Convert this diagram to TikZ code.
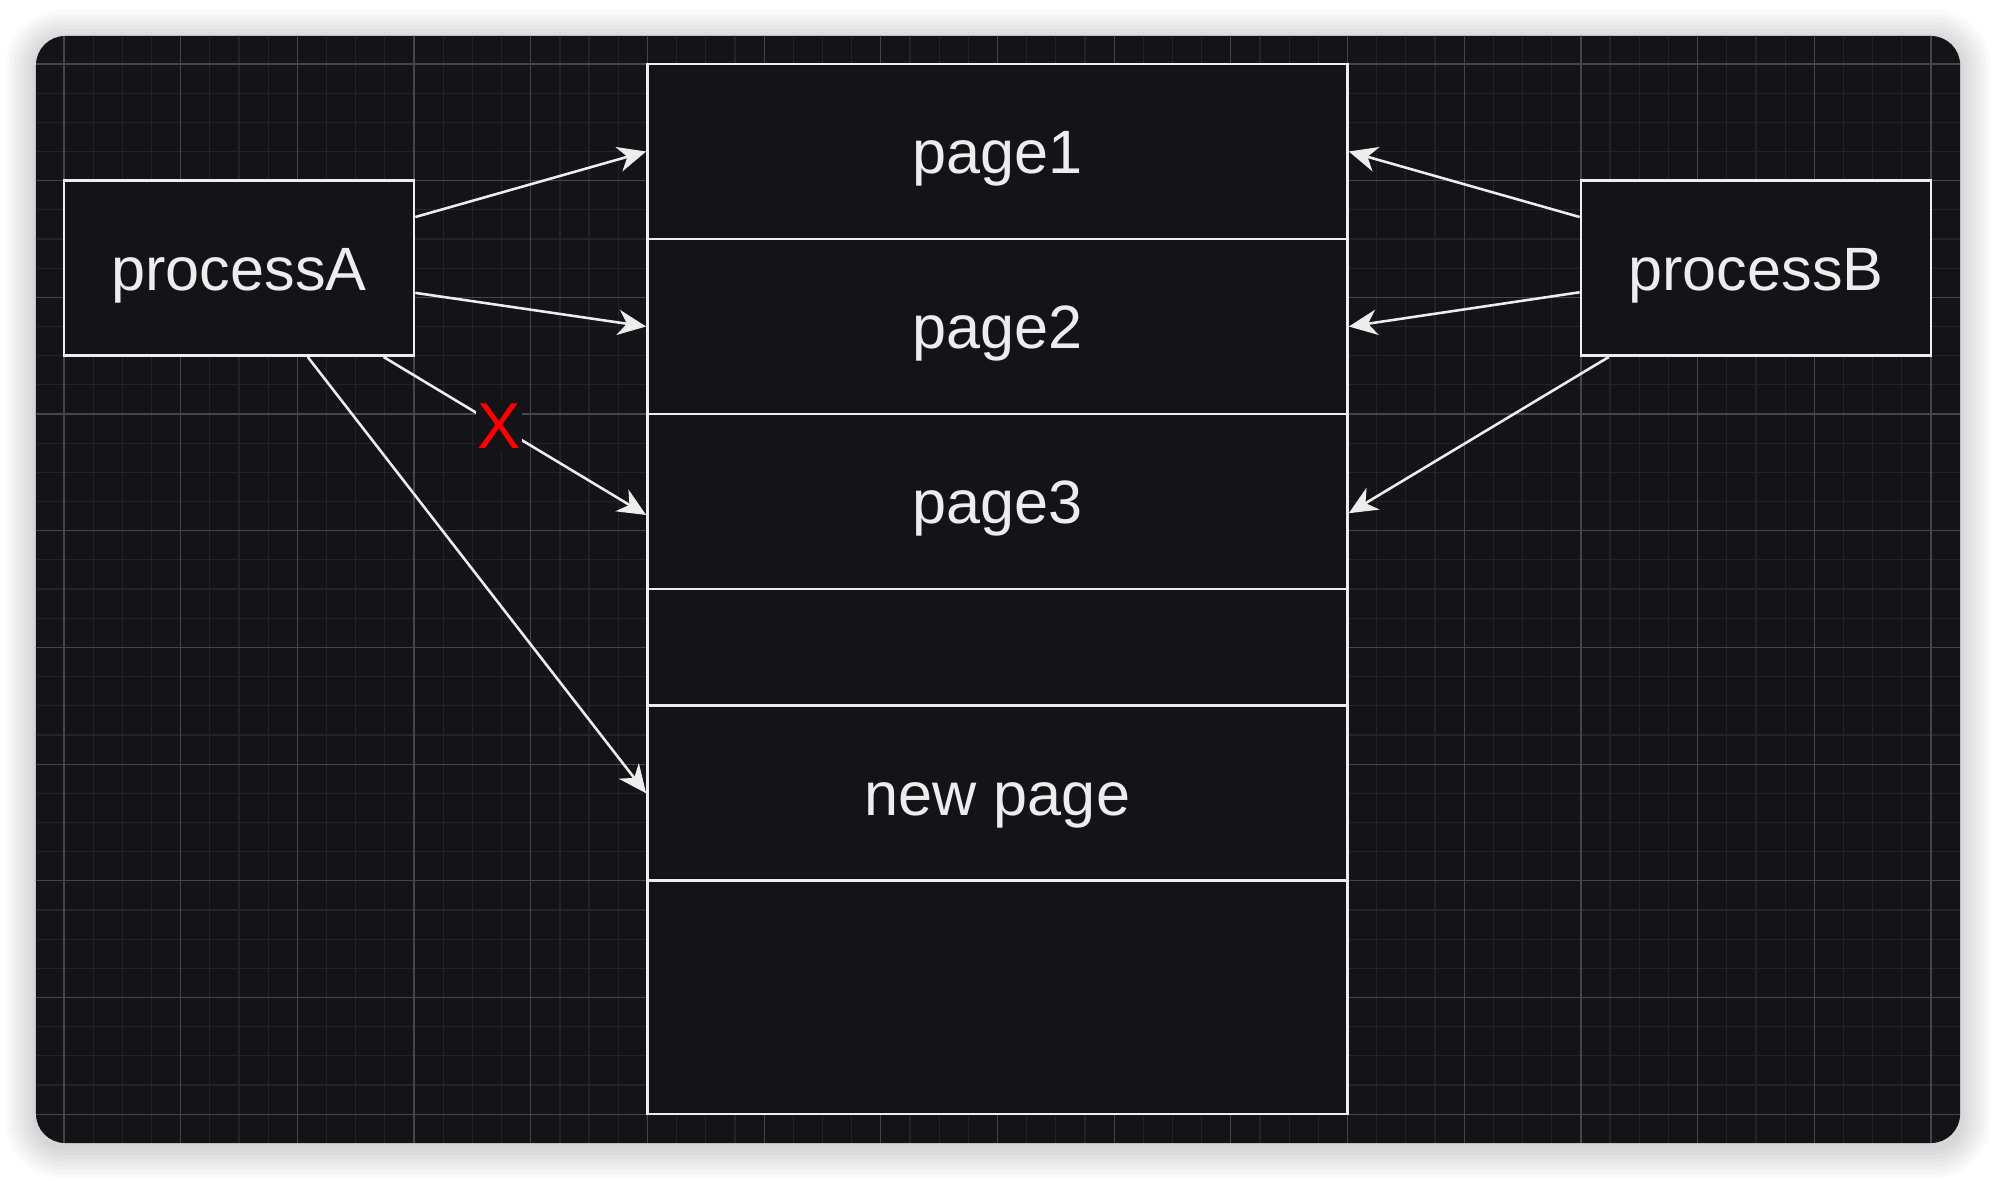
\documentclass[tikz,border=0pt]{standalone}
\usepackage{fontspec}
\setmainfont{Liberation Sans}
\usetikzlibrary{arrows.meta,calc}

\definecolor{canvas}{HTML}{141317}
\definecolor{gridminor}{HTML}{242328}
\definecolor{gridmajor}{HTML}{46454B}
\definecolor{ink}{HTML}{EDEDED}
\definecolor{crossred}{HTML}{FF0000}

\tikzset{
  box/.style={draw=ink, fill=canvas, line width=0.75pt, text=ink,
    font=\fontsize{17.9}{21}\selectfont, text height=12.8pt, text depth=0pt},
  procbox/.style={box, minimum width=3.6cm, minimum height=1.8cm},
  pagebox/.style={box, minimum width=7.2cm, minimum height=#1},
  arr/.style={draw=ink, line width=0.75pt,
    -{Stealth[length=0.29cm, width=0.26cm, inset=0.09cm]}},
  cross/.style={fill=canvas, text=crossred, inner sep=0.5pt,
    font=\fontsize{19}{21}\selectfont}
}

\begin{document}
\begin{tikzpicture}[x=0.03cm,y=-0.03cm]
\useasboundingbox (-21.94,-21.94) rectangle (662.3,382.6);
\fill[white] (-21.94,-21.94) rectangle (662.3,382.6);
% soft shadow
\foreach \s in {1,...,8}
  \fill[black, opacity=0.02, rounded corners=0.3cm+\s*0.035cm]
    (-9.6-1.3*\s,-9.6-1.3*\s+1.5) rectangle (650+1.3*\s,369.9+1.3*\s+1.5);
\fill[canvas, rounded corners=0.3cm] (-9.6,-9.6) rectangle (650,369.9);
% grid
\begin{scope}
\clip[rounded corners=0.3cm] (-9.6,-9.6) rectangle (650,369.9);
\foreach \g in {0,10,...,640} \draw[gridminor, line width=0.35pt] (\g,-10) -- (\g,370);
\foreach \g in {0,10,...,360} \draw[gridminor, line width=0.35pt] (-10,\g) -- (650,\g);
\foreach \g in {0,40,...,640} \draw[gridmajor, line width=0.35pt] (\g,-10) -- (\g,370);
\foreach \g in {0,40,...,360} \draw[gridmajor, line width=0.35pt] (-10,\g) -- (650,\g);
\end{scope}

% memory pages
\node[pagebox=1.8cm] (page1) at (320,30) {page1};
\node[pagebox=1.8cm] (page2) at (320,90) {page2};
\node[pagebox=1.8cm] (page3) at (320,150) {page3};
\node[pagebox=1.2cm] (blank) at (320,200) {};
\node[pagebox=1.8cm] (newpage) at (320,250) {new page};
\node[pagebox=2.4cm] (rest) at (320,320) {};

% processes
\node[procbox] (procA) at (60,70) {processA};
\node[procbox] (procB) at (580,70) {processB};

\draw[arr] ($(procA.north east)+(0,12.9)$) -- (page1.west);
\draw[arr] ($(procA.north east)+(0,38.9)$) -- (page2.west);
\draw[arr] ($(procA.south west)+(110,0)$) -- node[cross, pos=0.44] (cut) {X} ($(page3.west)+(0,4.6)$);
\draw[arr] ($(procA.south west)+(84,0)$) -- (newpage.west);

\draw[arr] ($(procB.north west)+(0,12.9)$) -- (page1.east);
\draw[arr] ($(procB.north west)+(0,38.7)$) -- (page2.east);
\draw[arr] ($(procB.south west)+(10,0)$) -- ($(page3.east)+(0,4)$);
\end{tikzpicture}
\end{document}
